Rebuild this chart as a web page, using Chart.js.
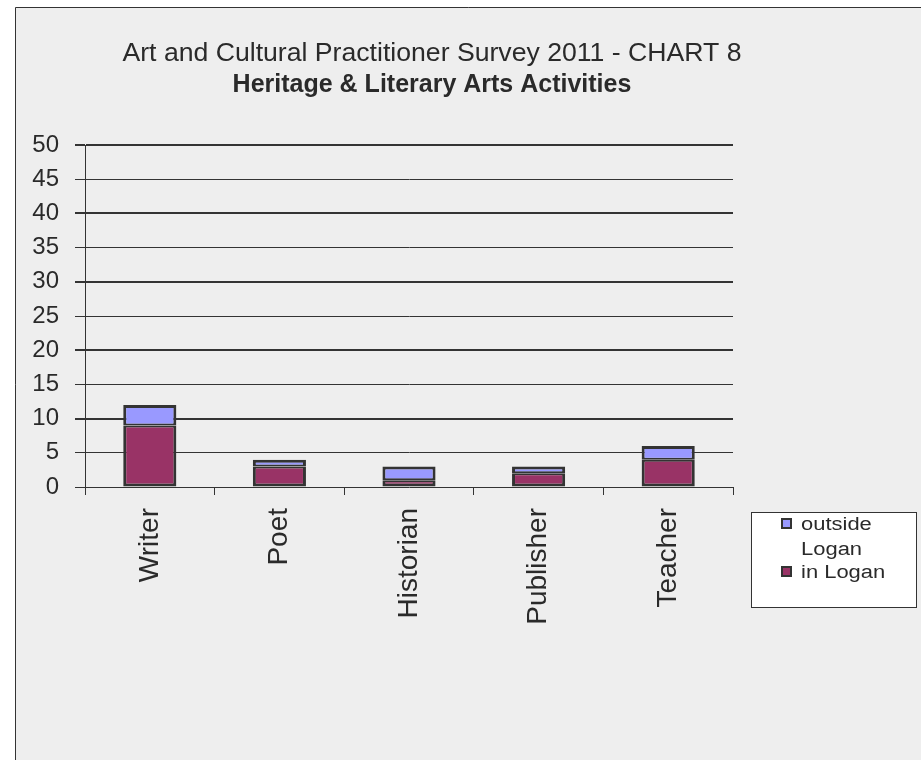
<!DOCTYPE html>
<html><head><meta charset="utf-8">
<script src="https://cdn.jsdelivr.net/npm/chart.js@4/dist/chart.umd.min.js"></script>
<style>html,body{margin:0;padding:0;background:#fff;}#wrap{width:921px;height:760px;position:relative;}</style>
</head><body><div id="wrap"><canvas id="c" width="921" height="760"></canvas></div>
<script>
const categories = ["Writer", "Poet", "Historian", "Publisher", "Teacher"];
const inLogan = [9, 3, 1, 2, 4];
const outsideLogan = [3, 1, 2, 1, 2];
const seriesNames = ["in Logan", "outside Logan"];
const titleLines = ["Art and Cultural Practitioner Survey 2011 - CHART 8", "Heritage & Literary Arts Activities"];

const FONT = "'Liberation Sans', Arial, sans-serif";

function stretchText(ctx, text, x, y, sx) {
  ctx.save();
  ctx.translate(x, y);
  ctx.scale(sx, 1);
  ctx.fillText(text, 0, 0);
  ctx.restore();
}

const framePlugin = {
  id: 'frame',
  beforeDraw(chart) {
    const ctx = chart.ctx;
    ctx.save();
    ctx.fillStyle = '#fff';
    ctx.fillRect(0, 0, 921, 760);
    ctx.fillStyle = '#eeeeee';
    ctx.fillRect(15, 7, 930, 780);
    ctx.strokeStyle = '#333';
    ctx.lineWidth = 1;
    ctx.beginPath();
    ctx.moveTo(15.5, 780); ctx.lineTo(15.5, 7.5); ctx.lineTo(930, 7.5);
    ctx.stroke();
    ctx.restore();
  },
  afterDraw(chart) {
    const ctx = chart.ctx;
    ctx.save();
    ctx.fillStyle = '#2a2a2a';
    ctx.textAlign = 'center';
    ctx.textBaseline = 'middle';
    ctx.font = '25px ' + FONT;
    stretchText(ctx, titleLines[0], 432, 54, 1.065);
    ctx.font = 'bold 25px ' + FONT;
    ctx.fillText(titleLines[1], 432, 85);
    // legend
    ctx.fillStyle = '#fff';
    ctx.fillRect(751, 512, 165, 95);
    ctx.strokeStyle = '#333';
    ctx.lineWidth = 1;
    ctx.strokeRect(751.5, 512.5, 165, 95);
    const ds = chart.data.datasets;
    const items = [
      {ds: ds[1], lines: ['outside', 'Logan'], y: 524},
      {ds: ds[0], lines: ['in Logan'], y: 572}
    ];
    ctx.font = '18px ' + FONT;
    ctx.textAlign = 'left';
    items.forEach(it => {
      ctx.fillStyle = it.ds.backgroundColor;
      ctx.fillRect(782, it.y - 5, 9, 9);
      ctx.strokeStyle = '#333';
      ctx.lineWidth = 2;
      ctx.strokeRect(782, it.y - 5, 9, 9);
      ctx.fillStyle = '#2a2a2a';
      it.lines.forEach((l, i) => stretchText(ctx, l, 801, it.y + 1 + i * 25, 1.22));
    });
    ctx.restore();
  }
};

new Chart(document.getElementById('c'), {
  type: 'bar',
  data: {
    labels: categories,
    datasets: [
      {label: seriesNames[0], data: inLogan, backgroundColor: '#993366', borderColor: '#333', borderWidth: {top: 2, left: 3, right: 3, bottom: 3}, borderSkipped: false},
      {label: seriesNames[1], data: outsideLogan, backgroundColor: '#9999ff', borderColor: '#333', borderWidth: {top: 3, left: 3, right: 3, bottom: 2}, borderSkipped: false}
    ]
  },
  options: {
    responsive: false,
    animation: false,
    devicePixelRatio: 1,
    layout: {padding: {left: 15, right: 188, top: 145, bottom: 0}},
    datasets: {bar: {categoryPercentage: 1, barPercentage: 0.41}},
    plugins: {legend: {display: false}, title: {display: false}, tooltip: {enabled: false}},
    scales: {
      x: {
        stacked: true,
        offset: true,
        grid: {display: true, drawOnChartArea: false, offset: true, color: '#333', lineWidth: 1, tickLength: 8},
        border: {display: false},
        ticks: {color: '#2a2a2a', font: {family: FONT, size: 28}, minRotation: 90, maxRotation: 90, padding: 13},
        afterFit(s) { s.height = 273; }
      },
      y: {
        stacked: true,
        min: 0, max: 50,
        grid: {color: '#333', lineWidth: ctx => (ctx.tick && ctx.tick.value > 0 && ctx.tick.value % 10 === 0) ? 2 : 1, tickLength: 10, drawTicks: true},
        border: {display: true, color: '#333', width: 1},
        ticks: {stepSize: 5, color: '#2a2a2a', font: {family: FONT, size: 24}, padding: 16},
        afterFit(s) { s.width = 70; }
      }
    }
  },
  plugins: [framePlugin]
});
</script>
</body></html>
